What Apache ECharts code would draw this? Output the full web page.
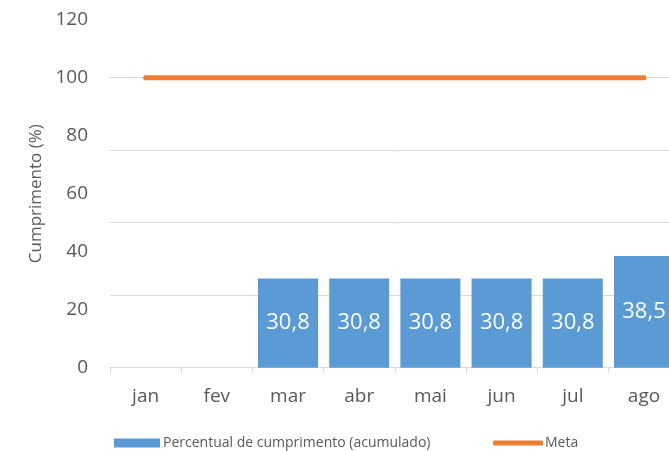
<!DOCTYPE html>
<html>
<head>
<meta charset="utf-8">
<script src="https://cdn.jsdelivr.net/npm/echarts@6/dist/echarts.min.js"></script>
<style>
    html, body { margin: 0; padding: 0; overflow: hidden; background: #fff; }
    #chart { width: 690px; height: 451px; }
</style>
</head>
<body>
<div id="chart"></div>
<script>
// dados do gráfico
var meses = ['jan', 'fev', 'mar', 'abr', 'mai', 'jun', 'jul', 'ago'];
var percentual = [null, null, 30.8, 30.8, 30.8, 30.8, 30.8, 38.5];
var meta = [100, 100, 100, 100, 100, 100, 100, 100];

var nomeBarra = 'Percentual de cumprimento (acumulado)';
var nomeMeta = 'Meta';
var fonte = '"Open Sans", sans-serif';

var chart = echarts.init(document.getElementById('chart'));
chart.setOption({
    animation: false,
    textStyle: { fontFamily: fonte },
    grid: {
        left: 110,
        right: 10.4,
        top: 19.7,
        bottom: 83.3
    },
    legend: [
        {
            data: [nomeBarra],
            left: 109,
            top: 431,
            icon: 'rect',
            itemWidth: 46,
            itemHeight: 9,
            itemGap: 0,
            textStyle: { color: '#595959', fontSize: 14, fontFamily: fonte, padding: [0, 0, 0, -2] }
        },
        {
            data: [nomeMeta],
            left: 488,
            top: 431,
            icon: 'roundRect',
            itemWidth: 50,
            itemHeight: 5,
            textStyle: { color: '#595959', fontSize: 14, fontFamily: fonte, padding: [0, 0, 0, -3] }
        }
    ],
    xAxis: {
        type: 'category',
        data: meses,
        axisLine: { lineStyle: { color: '#d9d9d9', width: 1 } },
        axisTick: { show: true, length: 5, lineStyle: { color: '#d9d9d9' } },
        axisLabel: { color: '#595959', fontSize: 19, margin: 19, fontFamily: fonte }
    },
    yAxis: [
        {
            type: 'value',
            min: 0,
            max: 120,
            interval: 20,
            name: 'Cumprimento (%)',
            nameLocation: 'middle',
            nameGap: 64,
            nameTextStyle: { color: '#595959', fontSize: 17, fontFamily: fonte, padding: [0, 0, 0, 0] },
            axisLine: { show: false },
            axisTick: { show: false },
            splitLine: { show: false },
            axisLabel: { color: '#595959', fontSize: 19, margin: 22, fontFamily: fonte }
        },
        {
            // linhas de grade a cada 25
            type: 'value',
            position: 'left',
            min: 0,
            max: 120,
            interval: 25,
            axisLine: { show: false },
            axisTick: { show: false },
            axisLabel: { show: false },
            splitLine: { show: true, showMaxLine: false, lineStyle: { color: '#d9d9d9', width: 1 } }
        }
    ],
    series: [
        {
            name: nomeBarra,
            type: 'bar',
            data: percentual,
            barCategoryGap: '15.7%',
            itemStyle: { color: '#5b9bd5' },
            label: {
                show: true,
                position: 'inside',
                color: '#ffffff',
                fontSize: 22,
                fontFamily: fonte,
                formatter: function (p) {
                    return p.value == null ? '' : p.value.toFixed(1).replace('.', ',');
                }
            }
        },
        {
            name: nomeMeta,
            type: 'line',
            data: meta,
            symbol: 'none',
            itemStyle: { color: '#ed7d31' },
            lineStyle: { color: '#ed7d31', width: 5, cap: 'round' },
            z: 5
        }
    ]
});
</script>
</body>
</html>
